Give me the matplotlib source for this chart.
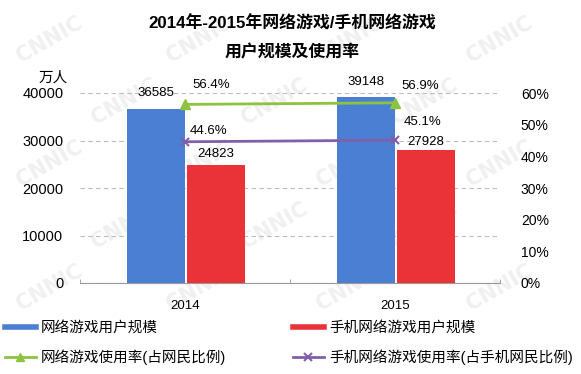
import numpy as np
import matplotlib.pyplot as plt
from matplotlib.lines import Line2D

plt.rcParams['font.family'] = ['Liberation Sans', 'Noto Sans CJK SC']

years = ['2014', '2015']
users_pc = [36585, 39148]        # 网络游戏用户规模 (万人)
users_mobile = [24823, 27928]    # 手机网络游戏用户规模 (万人)
rate_pc = [56.4, 56.9]           # 网络游戏使用率 (%)
rate_mobile = [44.6, 45.1]       # 手机网络游戏使用率 (%)

blue = '#4a7fd4'
red = '#ea3339'
green = '#8cc43f'
purple = '#8060a8'

W, H = 581, 374
fig = plt.figure(figsize=(W/100, H/100), dpi=100)
ax = fig.add_axes([80/W, 1-283/H, 420/W, 190/H])

# faint CNNIC watermark behind everything (kept inside the canvas)
for j, yy in enumerate(np.arange(40, H - 40, 62)):
    for xx in np.arange(50 + (j % 2) * 75, W - 40, 150):
        fig.text(xx/W, 1 - yy/H, 'CNNIC', rotation=30, fontsize=15,
                 color='#f0f0f0', fontweight='bold', family='DejaVu Sans',
                 ha='center', va='center', zorder=-1)

x = np.arange(len(years))
w = 0.275
ax.bar(x - 0.137, users_pc, w, color=blue, zorder=3)
ax.bar(x + 0.148, users_mobile, w, color=red, zorder=3)

ax.set_xlim(-0.5, 1.5)
ax.set_ylim(0, 40000)
ax.set_yticks(np.arange(0, 40001, 10000))
ax.tick_params(axis='y', length=0, labelsize=10.5, pad=12)
ax.tick_params(axis='x', which='major', length=0, labelsize=9.5, pad=12)
ax.set_xticks(x)
ax.set_xticklabels(years)
ax.set_xticks([-0.5, 0.5, 1.5], minor=True)
ax.tick_params(axis='x', which='minor', direction='in', length=3, color='#999999')
for s in ['left', 'right', 'top']:
    ax.spines[s].set_visible(False)
ax.spines['bottom'].set_color('#999999')
ax.grid(axis='y', linestyle=(0, (4, 3)), color='#bbbbbb', linewidth=0.8, zorder=0)
ax.set_axisbelow(True)
ax.patch.set_alpha(0)

# bar value labels, offsets in pixels above bar top
off_pc = [16, 15]
off_mobile = [11, 8]
for i in range(len(years)):
    ax.annotate(str(users_pc[i]), (x[i] - 0.137, users_pc[i]), xytext=(0, off_pc[i]),
                textcoords='offset pixels', ha='center', va='center', fontsize=9.5)
    ax.annotate(str(users_mobile[i]), (x[i] + 0.148, users_mobile[i]), xytext=(0, off_mobile[i]),
                textcoords='offset pixels', ha='center', va='center', fontsize=9.5)

ax2 = ax.twinx()
ax2.set_ylim(0, 60)
ax2.set_yticks(np.arange(0, 61, 10))
ax2.set_yticklabels([f'{v}%' for v in range(0, 61, 10)])
ax2.tick_params(axis='y', length=0, labelsize=10, pad=15)
for s in ax2.spines.values():
    s.set_visible(False)
l1, = ax2.plot(x, rate_pc, color=green, lw=2, marker='^', ms=7, zorder=4)
l2, = ax2.plot(x, rate_mobile, color=purple, lw=2, marker='x', ms=6, mew=1.5, zorder=4)

off_rate_pc = [(26, 19), (25, 17)]
off_rate_mobile = [(23, 11), (28, 18)]
for i in range(len(years)):
    ax2.annotate(f'{rate_pc[i]}%', (x[i], rate_pc[i]), xytext=off_rate_pc[i],
                 textcoords='offset pixels', ha='center', va='center', fontsize=9.5)
    ax2.annotate(f'{rate_mobile[i]}%', (x[i], rate_mobile[i]), xytext=off_rate_mobile[i],
                 textcoords='offset pixels', ha='center', va='center', fontsize=9.5)

fig.text(53/W, 1-78/H, '万人', ha='center', va='center', fontsize=10.5)
fig.text(292/W, 1-24/H, '2014年-2015年网络游戏/手机网络游戏', ha='center', va='center',
         fontsize=12.2, fontweight='bold')
fig.text(292/W, 1-52/H, '用户规模及使用率', ha='center', va='center',
         fontsize=12.2, fontweight='bold')

handles = [Line2D([], [], color=blue, lw=4),
           Line2D([], [], color=green, lw=2, marker='^', ms=6),
           Line2D([], [], color=red, lw=4),
           Line2D([], [], color=purple, lw=2, marker='x', ms=6, mew=1.5)]
labels = ['网络游戏用户规模', '网络游戏使用率(占网民比例)',
          '手机网络游戏用户规模', '手机网络游戏使用率(占手机网民比例)']
fig.legend(handles, labels, loc='upper left', bbox_to_anchor=(5/W, 1-321/H), ncol=2,
           frameon=False, fontsize=10.5, handlelength=2.1, columnspacing=4.6,
           labelspacing=1.0, handletextpad=0.35, borderpad=0, borderaxespad=0)

fig.savefig('out.png', dpi=100)
